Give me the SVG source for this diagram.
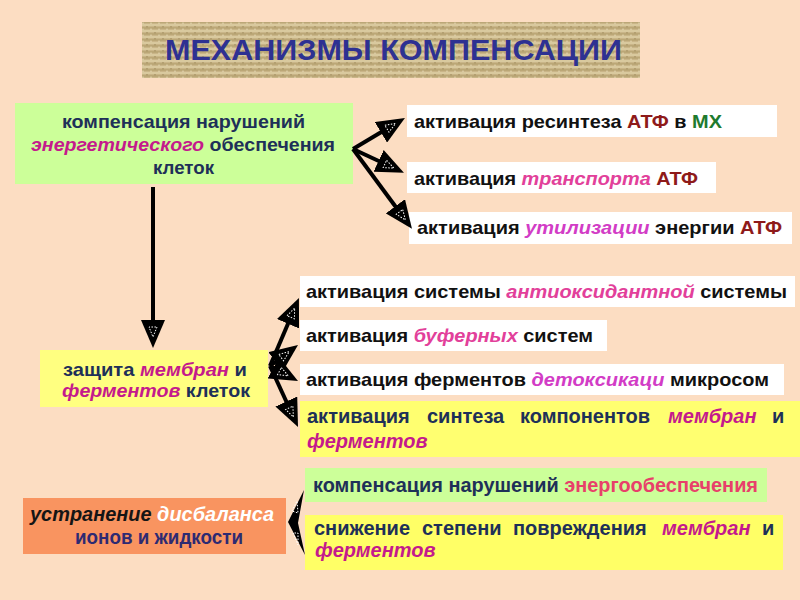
<svg xmlns="http://www.w3.org/2000/svg" width="800" height="600" viewBox="0 0 800 600">
<style>
.t{font-family:"Liberation Sans",Arial,sans-serif;font-weight:bold;font-size:19px}
.n{font-family:"Liberation Sans",Arial,sans-serif;font-weight:bold;font-size:20px}
.nv{fill:#1E3058}
.bk{fill:#111111}
.it{font-style:italic}
.pk{fill:#E2409A}
.vi{fill:#D23CC6}
.mg{fill:#C41A8C}
.dr{fill:#8E1A1A}
.gr{fill:#1E7A2E}
.green{fill:#CCFF99}
.yel{fill:#FFFF70}
.white{fill:#FFFFFF}
.shaft{stroke:#000;stroke-width:4;fill:none}
</style>
<defs>
<pattern id="weave" width="8" height="6" patternUnits="userSpaceOnUse">
<rect width="8" height="6" fill="#C9B588"/>
<line x1="0" y1="1" x2="8" y2="1" stroke="#E0D2A8" stroke-width="1.4"/>
<line x1="0" y1="4" x2="8" y2="4" stroke="#AE9966" stroke-width="1"/>
<line x1="3" y1="2" x2="3" y2="3.5" stroke="#9E8A5A" stroke-width="1"/>
<line x1="7" y1="4.5" x2="7" y2="6" stroke="#E8DCB8" stroke-width="1"/>
</pattern>
<marker id="ah" viewBox="0 0 28 24" markerWidth="28" markerHeight="24" refX="22" refY="12" orient="auto" markerUnits="userSpaceOnUse">
<path d="M0,0 L28,12 L0,24 Z" fill="#000"/>
<path d="M7,8 L17,12 L7,16 Z" fill="none" stroke="#fff" stroke-width="1" stroke-dasharray="1.5 1.5"/>
</marker>
</defs>
<rect width="800" height="600" fill="#FCDDC2"/>

<g id="title">
<rect x="142" y="22" width="498" height="56" fill="url(#weave)"/>
<text x="393.5" y="60" text-anchor="middle" textLength="457" lengthAdjust="spacingAndGlyphs" class="t" style="font-size:30px" fill="#2E3192">МЕХАНИЗМЫ КОМПЕНСАЦИИ</text>
</g>

<g id="energy">
<rect x="15" y="103" width="338" height="81" class="green"/>
<text x="183.5" y="128" text-anchor="middle" textLength="243" lengthAdjust="spacingAndGlyphs" class="t nv">компенсация нарушений</text>
<text x="183" y="151" text-anchor="middle" textLength="304" lengthAdjust="spacingAndGlyphs" class="t nv"><tspan class="it mg">энергетического</tspan> обеспечения</text>
<text x="183.5" y="174" text-anchor="middle" textLength="61" lengthAdjust="spacingAndGlyphs" class="t nv">клеток</text>
</g>

<g id="resynth">
<rect x="407" y="105" width="370" height="32" class="white"/>
<text x="414" y="128" textLength="308" lengthAdjust="spacingAndGlyphs" class="t bk">активация ресинтеза <tspan class="dr">АТФ</tspan> в <tspan class="gr">МХ</tspan></text>
</g>
<g id="transport">
<rect x="407" y="162" width="309" height="31" class="white"/>
<text x="414" y="185" textLength="284" lengthAdjust="spacingAndGlyphs" class="t bk">активация <tspan class="it pk">транспорта</tspan> <tspan class="dr">АТФ</tspan></text>
</g>
<g id="utilization">
<rect x="409" y="212" width="383" height="32" class="white"/>
<text x="417" y="234" textLength="365" lengthAdjust="spacingAndGlyphs" class="t bk">активация <tspan class="it vi">утилизации</tspan> энергии <tspan class="dr">АТФ</tspan></text>
</g>

<g id="protection">
<rect x="40" y="350" width="228" height="57" fill="#FFFF80"/>
<text x="155" y="376" text-anchor="middle" textLength="184" lengthAdjust="spacingAndGlyphs" class="t nv">защита <tspan class="it mg">мембран</tspan> и</text>
<text x="156" y="397" text-anchor="middle" textLength="188" lengthAdjust="spacingAndGlyphs" class="t nv"><tspan class="it mg">ферментов</tspan> клеток</text>
</g>

<g id="antioxidant">
<rect x="300" y="276" width="495" height="31" class="white"/>
<text x="306" y="298" textLength="481" lengthAdjust="spacingAndGlyphs" class="t bk">активация системы <tspan class="it pk">антиоксидантной</tspan> системы</text>
</g>
<g id="buffer">
<rect x="300" y="320" width="307" height="31" class="white"/>
<text x="306" y="342" textLength="287" lengthAdjust="spacingAndGlyphs" class="t bk">активация <tspan class="it pk">буферных</tspan> систем</text>
</g>
<g id="detox">
<rect x="300" y="364" width="484" height="31" class="white"/>
<text x="306" y="386" textLength="463" lengthAdjust="spacingAndGlyphs" class="t bk">активация ферментов <tspan class="it vi">детоксикаци</tspan> микросом</text>
</g>
<g id="synthesis">
<rect x="300" y="401" width="500" height="56" class="yel"/>
<text y="423" class="n nv"><tspan x="307">активация</tspan><tspan x="427">синтеза</tspan><tspan x="520">компонентов</tspan><tspan x="668" class="it mg">мембран</tspan><tspan x="772">и</tspan></text>
<text x="307" y="448" class="n it mg">ферментов</text>
</g>

<g id="imbalance">
<rect x="23" y="498" width="263" height="56" fill="#F99460"/>
<text x="152" y="521" text-anchor="middle" textLength="244" lengthAdjust="spacingAndGlyphs" class="n it" fill="#151515">устранение <tspan fill="#FFFFFF">дисбаланса</tspan></text>
<text x="159" y="544" text-anchor="middle" textLength="168" lengthAdjust="spacingAndGlyphs" class="n" fill="#2E2A72">ионов и жидкости</text>
</g>
<g id="energysupply">
<rect x="305" y="468" width="462" height="34" class="green"/>
<text x="313" y="492" textLength="445" lengthAdjust="spacingAndGlyphs" class="n nv">компенсация нарушений <tspan fill="#E8406A">энергообеспечения</tspan></text>
</g>
<g id="damage">
<rect x="305" y="515" width="478" height="55" fill="#FFFF66"/>
<text y="535" class="n nv"><tspan x="314">снижение</tspan><tspan x="422">степени</tspan><tspan x="513">повреждения</tspan><tspan x="662" class="it mg">мембран</tspan><tspan x="762">и</tspan></text>
<text x="315" y="557" class="n it mg">ферментов</text>
</g>

<g id="connectors">
<line class="shaft" x1="353" y1="149" x2="399.8" y2="121" marker-end="url(#ah)"/>
<line class="shaft" x1="353" y1="149" x2="398.5" y2="170.3" marker-end="url(#ah)"/>
<line class="shaft" x1="353" y1="149" x2="408.4" y2="224" marker-end="url(#ah)"/>
<line class="shaft" x1="153" y1="187" x2="153" y2="342" marker-end="url(#ah)"/>
<line class="shaft" x1="270" y1="366" x2="296.6" y2="303.5" marker-end="url(#ah)"/>
<line class="shaft" x1="270" y1="366" x2="293.2" y2="348.6" marker-end="url(#ah)"/>
<line class="shaft" x1="270" y1="366" x2="292.7" y2="378.2" marker-end="url(#ah)"/>
<line class="shaft" x1="270" y1="366" x2="295.5" y2="421.5" marker-end="url(#ah)"/>
<path d="M304,490 L288,522 L305,555 L298,523 Z" fill="#000"/>
<path d="M292,511 L297,501 L298,513 Z M293,533 L298,545 L298,533 Z" fill="none" stroke="#fff" stroke-width="1" stroke-dasharray="1.5 1.5"/>
</g>
</svg>
